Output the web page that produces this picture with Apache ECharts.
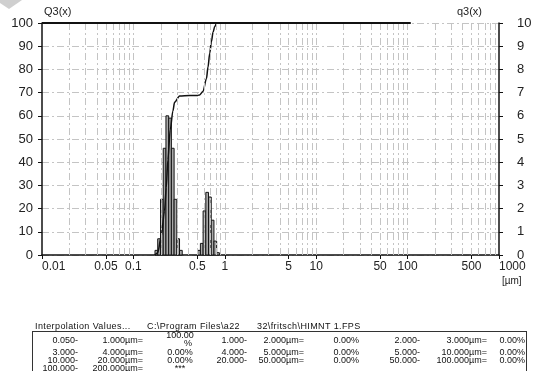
<!DOCTYPE html>
<html>
<head>
<meta charset="utf-8">
<script src="https://cdn.jsdelivr.net/npm/echarts@6/dist/echarts.min.js"></script>
<style>
  body { margin: 0; background: #fff; }
  #chart { position: absolute; left: 0; top: 0; width: 537px; height: 371px; }
  #table { position: absolute; left: 0; top: 0; width: 537px; height: 371px; overflow: hidden;
           font-family: 'Liberation Sans', Arial, sans-serif; font-size: 9px; color: #111; }
  #table span { position: absolute; white-space: nowrap; line-height: 9px; }
  #table span.head { letter-spacing: 0.4px; }
  #box { position: absolute; left: 32px; top: 331px; width: 493px; height: 60px; border: 1px solid #333; }
</style>
</head>
<body>
<div id="chart"></div>
<div id="table"><div id="box"></div></div>
<script>
// x axis (particle size, µm, log)
const xLabelValues = [0.01, 0.05, 0.1, 0.5, 1, 5, 10, 50, 100, 500, 1000];

// histogram classes q3(x): lower edge, upper edge (µm), height
const binLow  = [0.1723, 0.1845, 0.198, 0.2121, 0.227, 0.2432, 0.2604, 0.2788, 0.2986, 0.3196,
                 0.505, 0.5408, 0.579, 0.6199, 0.6637, 0.7106, 0.7607, 0.8147];
const binHigh = [0.1845, 0.198, 0.2121, 0.227, 0.2432, 0.2604, 0.2788, 0.2986, 0.3196, 0.3423,
                 0.5408, 0.579, 0.6199, 0.6637, 0.7106, 0.7607, 0.8147, 0.8724];
const q3Values = [0.2, 0.7, 2.4, 4.6, 6.0, 5.9, 4.6, 2.4, 0.7, 0.2,
                  0.2, 0.5, 1.9, 2.7, 2.5, 1.5, 0.6, 0.1];

// cumulative Q3(x)
const cumX = [0.172, 0.1845, 0.2016, 0.219, 0.2288, 0.2382, 0.253, 0.2703, 0.2822, 0.3201,
              0.4125, 0.505, 0.531, 0.577, 0.6295, 0.655, 0.684, 0.714, 0.7437, 0.777, 0.817, 108];
const cumY = [0, 1, 8, 19, 29, 41, 54, 62, 65.8, 68.5,
              68.7, 68.8, 69, 70.5, 76, 81, 87, 92, 96, 98.5, 100, 100];

// interpolation table
const tableHeader = ['Interpolation Values...', 'C:\\Program Files\\a22', '32\\fritsch\\HIMNT   1.FPS'];
const tableRows = [
  ['0.050-', '1.000µm=', '100.00|%', '1.000-', '2.000µm=', '0.00%', '2.000-', '3.000µm=', '0.00%'],
  ['3.000-', '4.000µm=', '0.00%', '4.000-', '5.000µm=', '0.00%', '5.000-', '10.000µm=', '0.00%'],
  ['10.000-', '20.000µm=', '0.00%', '20.000-', '50.000µm=', '0.00%', '50.000-', '100.000µm=', '0.00%'],
  ['100.000-', '200.000µm=', '***']
];

// grid lines at 1..9 of each decade
const gridX = [];
[0.01, 0.1, 1, 10, 100].forEach(d => {
  for (let k = 1; k <= 9; k++) if (!(d === 0.01 && k === 1)) gridX.push(+(d * k).toPrecision(3));
});

const font = "'Liberation Sans', Arial, sans-serif";
const gridDash = [7, 3, 2, 3];

const chart = echarts.init(document.getElementById('chart'));
chart.setOption({
  animation: false,
  backgroundColor: '#fff',
  grid: { left: 42, right: 38, top: 23, bottom: 116 },
  xAxis: {
    type: 'log', logBase: 10, min: 0.01, max: 1000,
    axisLine: { lineStyle: { color: '#111', width: 1.5 } },
    axisTick: { customValues: xLabelValues, length: 4, lineStyle: { color: '#111' } },
    axisLabel: {
      customValues: xLabelValues, margin: 6, color: '#222', fontFamily: font, fontSize: 12,
      alignMinLabel: 'left', alignMaxLabel: 'left',
      formatter: v => String(v)
    },
    splitLine: { show: false }
  },
  yAxis: [
    {
      type: 'value', min: 0, max: 100, interval: 10,
      axisLine: { show: true, lineStyle: { color: '#111', width: 1.5 } },
      axisTick: { show: true, length: 4, lineStyle: { color: '#111' } },
      axisLabel: { margin: 9, color: '#222', fontFamily: font, fontSize: 13 },
      splitLine: { show: true, lineStyle: { color: '#c4c4c4', type: gridDash } }
    },
    {
      type: 'value', min: 0, max: 10, interval: 1, position: 'right',
      axisLine: { show: true, lineStyle: { color: '#111', width: 1.5 } },
      axisTick: { show: true, length: 4, lineStyle: { color: '#111' } },
      axisLabel: { margin: 18, color: '#222', fontFamily: font, fontSize: 13, align: 'left' },
      splitLine: { show: false }
    }
  ],
  graphic: [
    { type: 'text', left: 44, top: 6, style: { text: 'Q3(x)', font: '11px ' + font, fill: '#222' } },
    { type: 'text', right: 55, top: 6, style: { text: 'q3(x)', font: '11px ' + font, fill: '#222' } },
    { type: 'text', left: 502, top: 276, style: { text: '[µm]', font: '10px ' + font, fill: '#222' } },
    { type: 'polygon', shape: { points: [[0, 0], [22, 0], [9, 9], [0, 3]] }, style: { fill: '#cfcfcf' } }
  ],
  series: [
    {
      name: 'grid',
      type: 'line', data: [], silent: true,
      markLine: {
        silent: true, symbol: 'none', label: { show: false }, animation: false,
        lineStyle: { color: '#c4c4c4', type: gridDash, width: 1 },
        data: gridX.map(v => ({ xAxis: v }))
      }
    },
    {
      name: 'q3',
      type: 'custom', xAxisIndex: 0, yAxisIndex: 1, z: 3,
      encode: { x: [0, 1], y: 2 },
      data: q3Values.map((v, i) => [binLow[i], binHigh[i], v]),
      renderItem: (params, api) => {
        const p0 = api.coord([api.value(0), api.value(2)]);
        const p1 = api.coord([api.value(1), 0]);
        return {
          type: 'rect',
          shape: { x: p0[0], y: p0[1], width: p1[0] - p0[0], height: p1[1] - p0[1] },
          style: { fill: '#a9a9a9', stroke: '#151515', lineWidth: 1 }
        };
      }
    },
    {
      name: 'Q3',
      type: 'line', yAxisIndex: 0, z: 4,
      data: cumX.map((x, i) => [x, cumY[i]]),
      showSymbol: false, smooth: 0.3, smoothMonotone: 'x',
      lineStyle: { color: '#111', width: 1.5 },
      markLine: {
        silent: true, symbol: 'none', label: { show: false },
        lineStyle: { color: '#111', type: 'solid', width: 2 },
        data: [[{ coord: [0.01, 100] }, { coord: [108, 100] }]]
      }
    }
  ]
});

// table below the chart
const tbl = document.getElementById('table');
function put(text, x, y, align, cls) {
  const s = document.createElement('span');
  s.textContent = text;
  if (cls) s.className = cls;
  s.style.top = (y - 4.5) + 'px';
  if (align === 'right') { s.style.left = (x - 100) + 'px'; s.style.width = '100px'; s.style.textAlign = 'right'; }
  else if (align === 'center') { s.style.left = (x - 50) + 'px'; s.style.width = '100px'; s.style.textAlign = 'center'; }
  else s.style.left = x + 'px';
  tbl.appendChild(s);
}
const headX = [35, 147, 257];
tableHeader.forEach((t, i) => put(t, headX[i], 326.5, 'left', 'head'));
const colX = [78, 143, 180, 247, 304, 359, 420, 487, 525];
const rowY = [340.5, 352, 360.5, 368];
tableRows.forEach((row, r) => {
  row.forEach((cell, c) => {
    if (cell.indexOf('|') >= 0) {
      const parts = cell.split('|');
      put(parts[0], colX[c], rowY[r] - 5, 'center');
      put(parts[1], colX[c] + 8, rowY[r] + 2.5, 'center');
    } else {
      put(cell, colX[c], rowY[r], c === 2 ? 'center' : 'right');
    }
  });
});
</script>
</body>
</html>
